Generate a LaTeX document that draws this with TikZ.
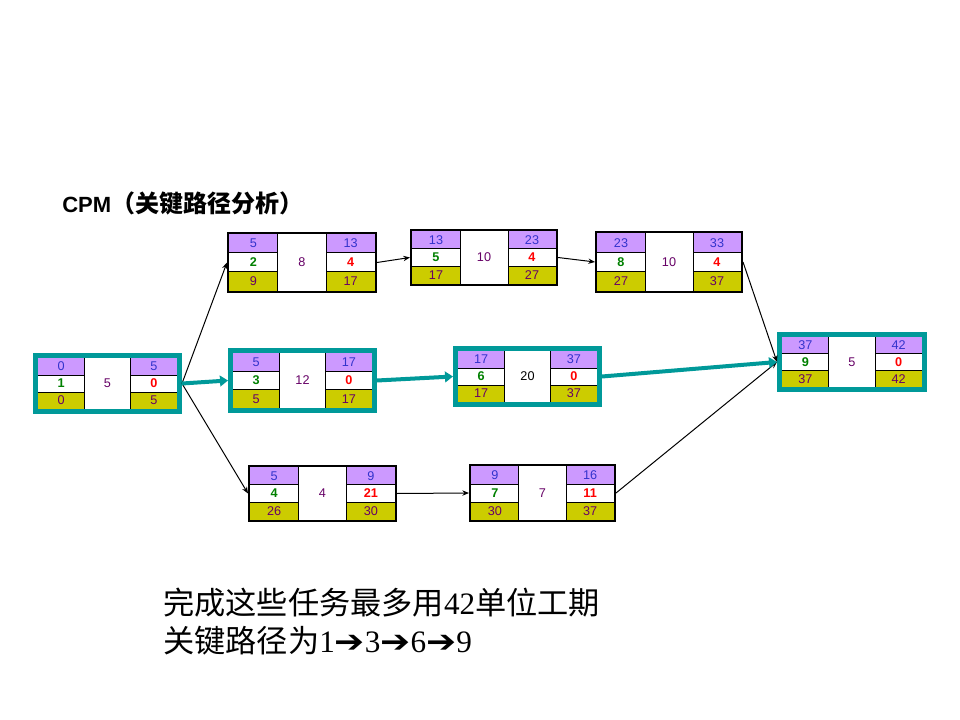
\documentclass[tikz,border=0pt]{standalone}
\usepackage{graphicx}
\usepackage{fontspec}
\setmainfont{Liberation Sans}
\newfontfamily\cjk{Noto Sans CJK SC}
\newfontfamily\timesfont{Liberation Serif}
\newfontfamily\symfont{DejaVu Sans}
\usetikzlibrary{arrows.meta,calc}

\definecolor{esfill}{RGB}{204,153,255}
\definecolor{lsfill}{RGB}{204,204,0}
\definecolor{critcol}{RGB}{0,153,153}
\definecolor{escol}{RGB}{51,51,204}
\definecolor{idcol}{RGB}{0,128,0}
\definecolor{slackcol}{RGB}{255,0,0}
\definecolor{lscol}{RGB}{102,0,102}

\tikzset{
  plain/.style={draw=black},
  critical/.style={draw=critcol},
  celltext/.style={font=\fontsize{9.5}{10}\selectfont, inner sep=0pt},
  estext/.style={celltext, text=escol},
  idtext/.style={celltext, text=idcol, font=\fontsize{9.5}{10}\selectfont\bfseries},
  slacktext/.style={celltext, text=slackcol, font=\fontsize{9.5}{10}\selectfont\bfseries},
  lstext/.style={celltext, text=lscol},
  durtext/.style={celltext, text=lscol},
  gridline/.style={draw=black, line width=0.75pt},
  link/.style={draw=black, line width=0.75pt, -{Stealth[length=5pt,width=4pt]}},
  critlink/.style={draw=critcol, line width=3pt, -{Triangle[length=6pt,width=8pt]}},
}

% Bold arrow used in the summary line
\newcommand\pathsep{{\symfont\scalebox{1.15}[1]{➔}}}

% Activity frame: name, centre x, centre y, inner width, inner height, style, border width (px)
\newcommand\activity[7]{%
  \def\cw{#4}\def\ch{#5}%
  \node[#6, line width=#7*0.75pt, inner sep=0pt,
        minimum width=0.75pt*(#4+#7), minimum height=0.75pt*(#5+#7)] (#1) at (#2,#3) {};%
}
% Cell contents: name, ES, EF, id, slack, duration, LS, LF
\newcommand\cells[8]{%
  \begin{scope}[shift={(#1.center)}]
    \pgfmathsetmacro\xa{-\cw/2}\pgfmathsetmacro\xb{-\cw/6}
    \pgfmathsetmacro\xc{\cw/6}\pgfmathsetmacro\xd{\cw/2}
    \pgfmathsetmacro\ya{-\ch/2}\pgfmathsetmacro\yb{-\ch/6}
    \pgfmathsetmacro\yc{\ch/6}\pgfmathsetmacro\yd{\ch/2}
    \fill[white] (\xa,\ya) rectangle (\xd,\yd);
    \fill[esfill] (\xa,\ya) rectangle (\xb,\yb);
    \fill[esfill] (\xc,\ya) rectangle (\xd,\yb);
    \fill[lsfill] (\xa,\yc) rectangle (\xb,\yd);
    \fill[lsfill] (\xc,\yc) rectangle (\xd,\yd);
    \draw[gridline] (\xb,\ya) -- (\xb,\yd) (\xc,\ya) -- (\xc,\yd)
      (\xa,\yb) -- (\xb,\yb) (\xa,\yc) -- (\xb,\yc)
      (\xc,\yb) -- (\xd,\yb) (\xc,\yc) -- (\xd,\yc);
    \node[estext] (#1-es) at (-\cw/3,-\ch/3) {#2};
    \node[estext] (#1-ef) at (\cw/3,-\ch/3) {#3};
    \node[idtext] (#1-id) at (-\cw/3,0) {#4};
    \node[slacktext] (#1-sl) at (\cw/3,0) {#5};
    \node[durtext] (#1-du) at (0,0) {#6};
    \node[lstext] (#1-ls) at (-\cw/3,\ch/3) {#7};
    \node[lstext] (#1-lf) at (\cw/3,\ch/3) {#8};
  \end{scope}%
}

\begin{document}
\begin{tikzpicture}[x=0.75pt,y=-0.75pt]
  \useasboundingbox[fill=white] (0,0) rectangle (960,720);

  \node[anchor=base west, inner sep=0pt, font=\fontsize{16.5}{18}\selectfont\bfseries]
    (title) at (62,213) {CPM{\cjk\fontsize{18}{20}\selectfont （关键路径分析）}};

  % activities
  \activity{t1}{107.5}{383.5}{139}{51}{critical}{5}
  \cells{t1}{0}{5}{1}{0}{5}{0}{5}
  \activity{t2}{302}{262.5}{146}{57}{plain}{2}
  \cells{t2}{5}{13}{2}{4}{8}{9}{17}
  \activity{t3}{484}{257.5}{144}{53}{plain}{2}
  \cells{t3}{13}{23}{5}{4}{10}{17}{27}
  \activity{t4}{669}{262}{144}{58}{plain}{2}
  \cells{t4}{23}{33}{8}{4}{10}{27}{37}
  \activity{t5}{302.5}{380.5}{139}{55}{critical}{5}
  \cells{t5}{5}{17}{3}{0}{12}{5}{17}
  \activity{t6}{527.5}{376.5}{139}{51}{critical}{5}
  \cells{t6}{17}{37}{6}{0}{\textcolor{black}{20}}{17}{37}
  \activity{t7}{322.5}{493.5}{145}{53}{plain}{2}
  \cells{t7}{5}{9}{4}{21}{4}{26}{30}
  \activity{t8}{542.5}{493}{143}{54}{plain}{2}
  \cells{t8}{9}{16}{7}{11}{7}{30}{37}
  \activity{t9}{852}{362}{140}{50}{critical}{5}
  \cells{t9}{37}{42}{9}{0}{5}{37}{42}

  % dependencies
  \draw[link] (t1.east) -- (t2.west);
  \draw[link] (t1.east) -- (t7.west);
  \draw[link] (t2.east) -- (t3.west);
  \draw[link] (t3.east) -- (t4.west);
  \draw[link] (t4.east) -- (t9.west);
  \draw[link] (t7.east) -- (t8.west);
  \draw[link] (t8.east) -- (t9.west);
  \draw[critlink] (t1.east) -- (t5.west);
  \draw[critlink] (t5.east) -- (t6.west);
  \draw[critlink] (t6.east) -- (t9.west);

  % summary
  \node[anchor=base west, inner sep=0pt, font=\fontsize{23.4}{28}\selectfont]
    (sum1) at (163,614) {\cjk 完成这些任务最多用{\timesfont 42}单位工期};
  \node[anchor=base west, inner sep=0pt, font=\fontsize{23.4}{28}\selectfont]
    (sum2) at (163,652) {{\cjk 关键路径为}{\timesfont 1}\pathsep{\timesfont 3}\pathsep{\timesfont 6}\pathsep{\timesfont 9}};
\end{tikzpicture}
\end{document}
